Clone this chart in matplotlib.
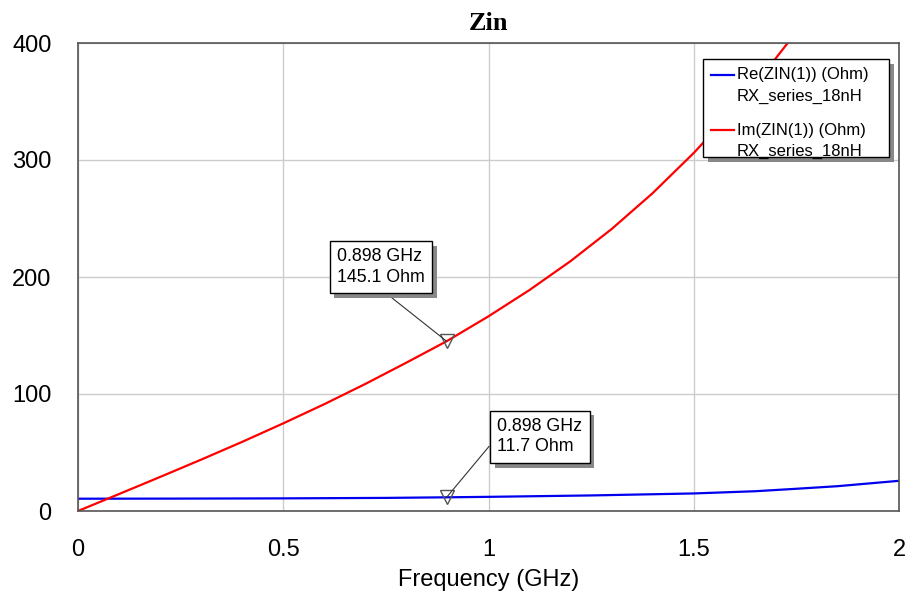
import numpy as np
import matplotlib
matplotlib.use("Agg")
import matplotlib.pyplot as plt
from matplotlib import patheffects as pe
from matplotlib.patches import Rectangle

# values
freq_im = [0, 0.1, 0.2, 0.3, 0.4, 0.5, 0.6, 0.7, 0.8, 0.898, 1.0, 1.1, 1.2,
           1.3, 1.4, 1.5, 1.6, 1.7, 1.73, 1.76]
im_zin = [0, 14.5, 29.1, 43.9, 59.1, 74.9, 91.3, 108.6, 126.8, 145.1, 166.4, 188.9, 213.6,
          241.0, 271.7, 306, 344, 387, 400.5, 415]
freq_re = [0, 0.25, 0.5, 0.75, 0.898, 1.0, 1.25, 1.5, 1.65, 1.75, 1.85, 2.0]
re_zin = [10.5, 10.6, 10.8, 11.2, 11.7, 12.1, 13.3, 15.0, 16.9, 19.0, 21.2, 25.8]

marker_f = 0.898
marker_im = 145.1
marker_re = 11.7

series_names = ['Re(ZIN(1)) (Ohm)', 'Im(ZIN(1)) (Ohm)']
series_sub = 'RX_series_18nH'
colors = ['#0000ee', '#ff0000']

plt.rcParams['font.family'] = ['Liberation Sans', 'DejaVu Sans']

fig = plt.figure(figsize=(9.1, 5.99), dpi=100)
ax = fig.add_axes([78 / 910, 1 - 511 / 599, 821 / 910, 468 / 599])

ax.plot(freq_re, re_zin, color=colors[0], lw=1.6)
ax.plot(freq_im, im_zin, color=colors[1], lw=1.6)

ax.set_xlim(0, 2)
ax.set_ylim(0, 400)
ax.set_xticks([0, 0.5, 1, 1.5, 2])
ax.set_xticklabels(['0', '0.5', '1', '1.5', '2'])
ax.set_yticks([0, 100, 200, 300, 400])
ax.grid(True, color='#cccccc', lw=1)
ax.set_axisbelow(True)
ax.tick_params(length=0, labelsize=17, pad=20)
ax.tick_params(axis='y', pad=19)
for s in ax.spines.values():
    s.set_color('#555555')
    s.set_linewidth(1.2)

ax.set_xlabel('Frequency (GHz)', fontsize=17, labelpad=6)
ax.set_title('Zin', fontsize=19, fontweight='bold', family='Liberation Serif', pad=9)

# markers
ax.plot([marker_f], [marker_im], marker='v', ms=10, mfc='none', mec='#555555', mew=1, ls='none')
ax.plot([marker_f], [marker_re], marker='v', ms=10, mfc='none', mec='#555555', mew=1, ls='none')

shadow = [pe.SimplePatchShadow(offset=(3.5, -3.5), shadow_rgbFace='#888888', alpha=1), pe.Normal()]

def add_box(txt, xy, xytext, relpos):
    a = ax.annotate(txt, xy=xy, xytext=xytext, textcoords='data',
                    fontsize=12.8, ha='left', va='center', linespacing=1.25,
                    bbox=dict(boxstyle='square,pad=0.42', fc='white', ec='black', lw=1),
                    arrowprops=dict(arrowstyle='-', color='#333333', lw=0.8,
                                    shrinkA=0, shrinkB=0, relpos=relpos))
    a.get_bbox_patch().set_path_effects(shadow)
    return a

add_box('%.3f GHz\n%.1f Ohm' % (marker_f, marker_im), (marker_f, marker_im),
        (0.631, 208.5), (0.45, 0))
add_box('%.3f GHz\n%.1f Ohm' % (marker_f, marker_re), (marker_f, marker_re),
        (1.021, 63.5), (0, 0.5))

# legend box, laid out like the simulator's legend
def px(x, y):
    return (x - 78) / 821, (511 - y) / 468

x0, y0 = px(703, 157)
x1, y1 = px(889, 59)
box = Rectangle((x0, y0), x1 - x0, y1 - y0, transform=ax.transAxes, fc='white',
                ec='black', lw=1, clip_on=False, zorder=5)
box.set_path_effects(shadow)
ax.add_patch(box)
for i, (name, c) in enumerate(zip(series_names, colors)):
    yl = 74.5 + i * 55.5
    hx0, hy = px(710.5, yl)
    hx1, _ = px(733.5, yl)
    ax.plot([hx0, hx1], [hy, hy], color=c, lw=1.6, transform=ax.transAxes,
            clip_on=False, zorder=6)
    tx, ty = px(737, yl)
    ax.text(tx, ty, name, fontsize=12, ha='left', va='center',
            transform=ax.transAxes, zorder=6)
    _, ty2 = px(737, yl + 21.5)
    ax.text(tx, ty2, series_sub, fontsize=12, ha='left', va='center',
            transform=ax.transAxes, zorder=6)

fig.savefig('out.png', dpi=100)
